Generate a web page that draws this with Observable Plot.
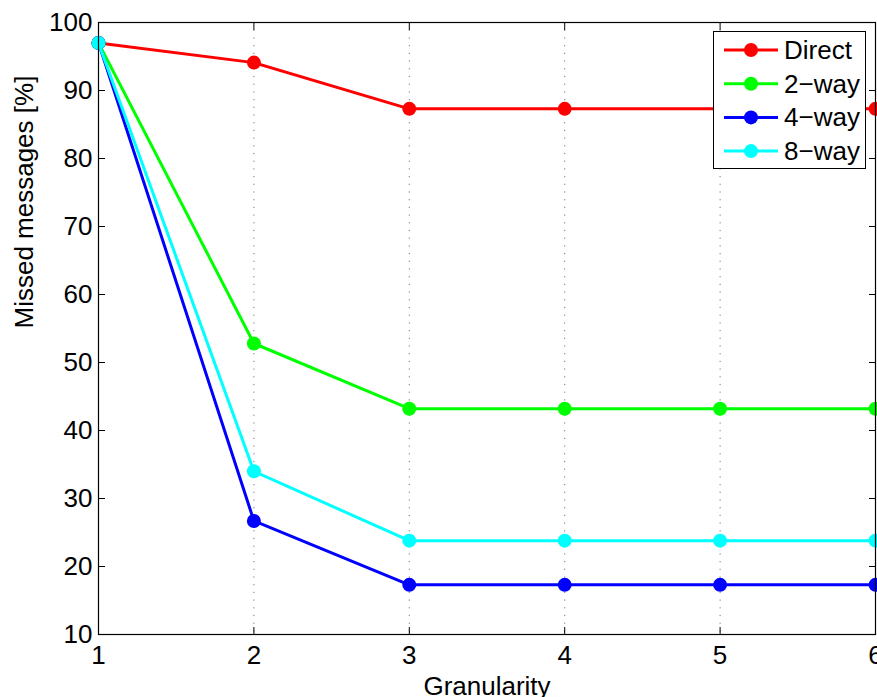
<!DOCTYPE html>
<html>
<head>
<meta charset="utf-8">
<script src="https://cdn.jsdelivr.net/npm/d3@7"></script>
<script src="https://cdn.jsdelivr.net/npm/@observablehq/plot@0.6"></script>
<style>
  html, body { margin: 0; padding: 0; background: #fff; }
  #wrap { position: relative; width: 877px; height: 697px; overflow: hidden; }
  #legend { position: absolute; left: 713px; top: 31px; width: 151px; height: 136px;
            border: 1.5px solid #000; background: #fff; }
  svg text { font-family: "Liberation Sans", Arial, Helvetica, sans-serif; }
</style>
</head>
<body>
<div id="wrap"></div>
<script>
const granularity = [1, 2, 3, 4, 5, 6];
const direct = [97, 94.1, 87.3, 87.3, 87.3, 87.3];
const way2   = [97, 52.8, 43.2, 43.2, 43.2, 43.2];
const way4   = [97, 26.7, 17.3, 17.3, 17.3, 17.3];
const way8   = [97, 34.0, 23.8, 23.8, 23.8, 23.8];
const seriesNames = ["Direct", "2\u2212way", "4\u2212way", "8\u2212way"];
const seriesColors = ["#ff0000", "#00ff00", "#0000ff", "#00ffff"];
const xTicks = [1, 2, 3, 4, 5, 6];
const yTicks = [10, 20, 30, 40, 50, 60, 70, 80, 90, 100];
const gridTicks = [2, 3, 4, 5];
const xLabel = "Granularity";
const yLabel = "Missed messages [%]";

const seriesValues = [direct, way2, way4, way8];
const rows = seriesNames.map((name, i) =>
  granularity.map((g, j) => ({series: name, x: g, y: seriesValues[i][j], color: seriesColors[i]})));

const font = 26;
const tl = 7;
const fmt = d => String(d);
const seriesMarks = rows.flatMap(d => [
  Plot.line(d, {x: "x", y: "y", stroke: d[0].color, strokeWidth: 3}),
  Plot.dot(d, {x: "x", y: "y", fill: d[0].color, r: 7, stroke: "none"})
]);

const chart = Plot.plot({
  width: 877,
  height: 697,
  marginLeft: 98,
  marginRight: 2,
  marginTop: 22,
  marginBottom: 63,
  style: {fontFamily: '"Liberation Sans", Arial, Helvetica, sans-serif', background: "#fff"},
  x: {domain: [1, 6]},
  y: {domain: [10, 100]},
  marks: [
    Plot.gridX(gridTicks, {stroke: "#777", strokeOpacity: 1, strokeDasharray: "1.2,6.5", strokeWidth: 1}),
    Plot.axisX(xTicks, {anchor: "bottom", tickSize: 0, tickPadding: 11, tickFormat: fmt, fontSize: font, fill: "#000", label: null}),
    Plot.axisY(yTicks, {anchor: "left", tickSize: 0, tickPadding: 6, tickFormat: fmt, fontSize: font, fill: "#000", label: null}),
    Plot.axisX(xTicks, {anchor: "bottom", tickSize: tl, dy: -tl, text: null, label: null, stroke: "#000"}),
    Plot.axisX(xTicks, {anchor: "top", tickSize: tl, dy: tl, text: null, label: null, stroke: "#000"}),
    Plot.axisY(yTicks, {anchor: "left", tickSize: tl, dx: tl, text: null, label: null, stroke: "#000"}),
    Plot.axisY(yTicks, {anchor: "right", tickSize: tl, dx: -tl, text: null, label: null, stroke: "#000"}),
    Plot.text([xLabel], {frameAnchor: "bottom", dy: 52, fontSize: font, fill: "#000", lineAnchor: "middle"}),
    Plot.text([yLabel], {frameAnchor: "left", dx: -74, rotate: -90, fontSize: font, fill: "#000", lineAnchor: "middle"}),
    ...seriesMarks,
    Plot.frame({stroke: "#000", strokeWidth: 1.2})
  ]
});

const wrap = document.getElementById("wrap");
wrap.appendChild(chart);

// legend overlay
const legend = document.createElement("div");
legend.id = "legend";
const ns = "http://www.w3.org/2000/svg";
const lsvg = document.createElementNS(ns, "svg");
lsvg.setAttribute("width", 151);
lsvg.setAttribute("height", 136);
seriesNames.forEach((name, i) => {
  const cy = 18 + i * 33.7;
  const line = document.createElementNS(ns, "line");
  line.setAttribute("x1", 10); line.setAttribute("x2", 64);
  line.setAttribute("y1", cy); line.setAttribute("y2", cy);
  line.setAttribute("stroke", seriesColors[i]); line.setAttribute("stroke-width", 3);
  lsvg.appendChild(line);
  const c = document.createElementNS(ns, "circle");
  c.setAttribute("cx", 37); c.setAttribute("cy", cy); c.setAttribute("r", 7);
  c.setAttribute("fill", seriesColors[i]);
  lsvg.appendChild(c);
  const t = document.createElementNS(ns, "text");
  t.setAttribute("x", 70); t.setAttribute("y", cy + 9);
  t.setAttribute("font-size", font);
  t.setAttribute("fill", "#000");
  t.textContent = name;
  lsvg.appendChild(t);
});
legend.appendChild(lsvg);
wrap.appendChild(legend);
</script>
</body>
</html>
